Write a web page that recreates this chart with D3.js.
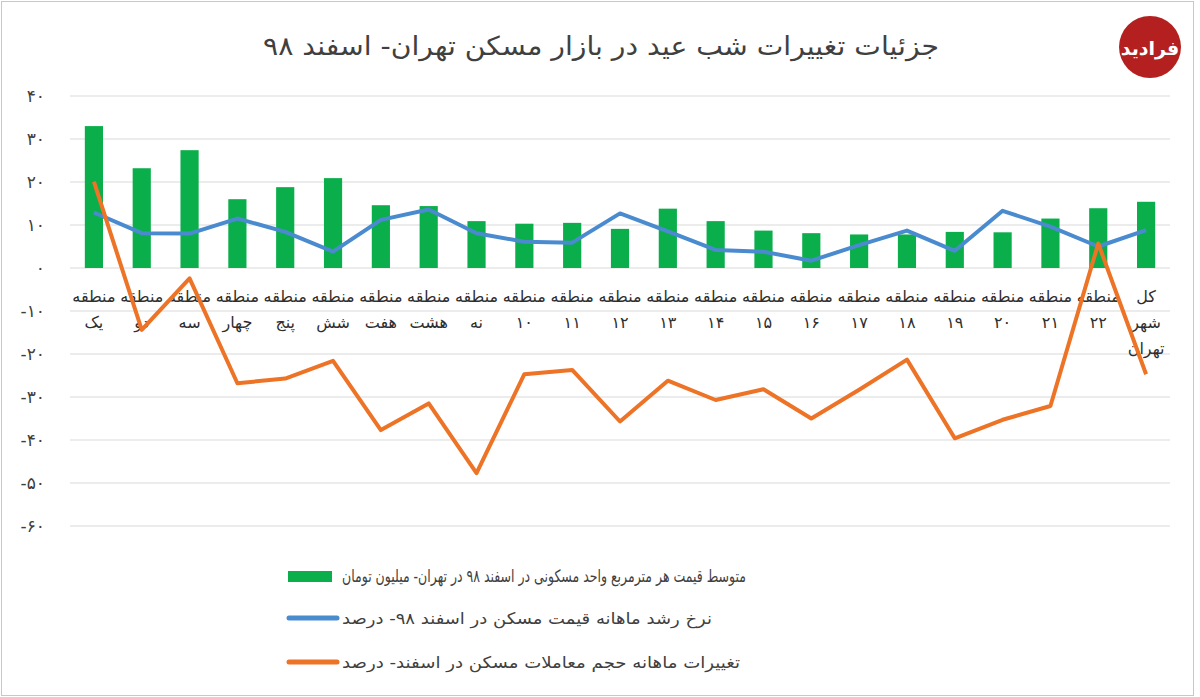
<!DOCTYPE html>
<html>
<head>
<meta charset="utf-8">
<script src="https://cdn.jsdelivr.net/npm/d3@7"></script>
<style>
  body { margin: 0; background: #fff; }
  text { font-family: "DejaVu Sans", sans-serif; }
</style>
</head>
<body>
<div id="chart"></div>
<script>
// chart data
const categories = ["یک", "دو", "سه", "چهار", "پنج", "شش", "هفت", "هشت", "نه",
  "۱۰", "۱۱", "۱۲", "۱۳", "۱۴", "۱۵", "۱۶", "۱۷", "۱۸", "۱۹", "۲۰", "۲۱", "۲۲", "کل"];
const avgPrice = [33.0, 23.2, 27.4, 16.0, 18.8, 20.9, 14.6, 14.4, 10.9, 10.3, 10.5, 9.1,
  13.8, 10.9, 8.7, 8.1, 7.8, 7.8, 8.4, 8.3, 11.5, 13.9, 15.4];
const priceGrowth = [12.9, 8.1, 8.0, 11.5, 8.4, 3.8, 11.2, 13.6, 8.1, 6.1, 5.9, 12.7,
  8.5, 4.2, 3.8, 1.7, 5.3, 8.7, 4.0, 13.3, 9.6, 5.0, 8.8];
const volumeChange = [20.1, -14.4, -2.4, -26.8, -25.7, -21.6, -37.7, -31.5, -47.7, -24.7,
  -23.7, -35.7, -26.2, -30.7, -28.2, -35.0, -28.3, -21.3, -39.6, -35.3, -32.1, 5.7, -24.7];
const yTicks = [40, 30, 20, 10, 0, -10, -20, -30, -40, -50, -60];
const legendLabels = [
  "متوسط قیمت هر مترمربع واحد مسکونی در اسفند ۹۸ در تهران- میلیون تومان",
  "نرخ رشد ماهانه قیمت مسکن در اسفند ۹۸- درصد",
  "تغییرات ماهانه حجم معاملات مسکن در اسفند- درصد"
];

const width = 1200;
const height = 697;
const green = "#0aae4a", blue = "#4a8bd0", orange = "#ed7326";

const faDigits = n => String(Math.abs(n)).replace(/\d/g, d => "۰۱۲۳۴۵۶۷۸۹"[d]);

const svg = d3.select("#chart")
  .append("svg")
  .attr("width", width)
  .attr("height", height);

// frame
svg.append("rect")
  .attr("x", 1.5).attr("y", 1.5)
  .attr("width", width - 8).attr("height", height - 3)
  .attr("fill", "none")
  .attr("stroke", "#c8c8c8");

// title
svg.append("text")
  .attr("x", 601).attr("y", 55)
  .attr("text-anchor", "middle")
  .attr("direction", "rtl")
  .attr("font-size", 26)
  .attr("textLength", 676)
  .attr("lengthAdjust", "spacingAndGlyphs")
  .attr("fill", "#404040")
  .text("جزئیات تغییرات شب عید در بازار مسکن تهران- اسفند ۹۸");

// logo
svg.append("circle")
  .attr("cx", 1150).attr("cy", 47).attr("r", 31)
  .attr("fill", "#b3201f");
svg.append("text")
  .attr("x", 1150).attr("y", 55)
  .attr("text-anchor", "middle")
  .attr("font-size", 19)
  .attr("font-weight", "bold")
  .attr("fill", "#fff")
  .text("فرادید");

// scales
const x = d3.scaleBand()
  .domain(d3.range(categories.length))
  .range([70, 1170])
  .paddingInner(0.62)
  .paddingOuter(0.31);

const y = d3.scaleLinear()
  .domain([-60, 40])
  .range([526, 96]);

const cx = i => x(i) + x.bandwidth() / 2;

// gridlines
svg.append("g")
  .selectAll("line")
  .data(yTicks)
  .enter().append("line")
  .attr("x1", 70).attr("x2", 1170)
  .attr("y1", d => y(d)).attr("y2", d => y(d))
  .attr("stroke", "#d9d9d9")
  .attr("stroke-width", 1.2);

// y labels
svg.append("g")
  .selectAll("text")
  .data(yTicks)
  .enter().append("text")
  .attr("x", 45)
  .attr("y", d => y(d) + 6)
  .attr("text-anchor", "end")
  .attr("font-size", 17)
  .attr("fill", "#404040")
  .text(d => (d < 0 ? "-" : "") + faDigits(d));

// bars
svg.append("g")
  .selectAll("rect")
  .data(avgPrice)
  .enter().append("rect")
  .attr("x", (d, i) => x(i))
  .attr("width", x.bandwidth())
  .attr("y", d => y(d))
  .attr("height", d => y(0) - y(d))
  .attr("fill", green);

// category labels
const labels = svg.append("g")
  .selectAll("text")
  .data(categories)
  .enter().append("text")
  .attr("text-anchor", "middle")
  .attr("font-size", 16)
  .attr("fill", "#2e2e2e");

labels.each(function(d, i) {
  const lines = i === categories.length - 1 ? ["کل", "شهر", "تهران"] : ["منطقه", d];
  d3.select(this).selectAll("tspan")
    .data(lines)
    .enter().append("tspan")
    .attr("x", cx(i))
    .attr("y", (l, k) => 302 + k * 26)
    .text(l => l);
});

// lines
const line = d3.line()
  .x((d, i) => cx(i))
  .y(d => y(d));

svg.append("path")
  .datum(priceGrowth)
  .attr("d", line)
  .attr("fill", "none")
  .attr("stroke", blue)
  .attr("stroke-width", 4)
  .attr("stroke-linejoin", "round");

svg.append("path")
  .datum(volumeChange)
  .attr("d", line)
  .attr("fill", "none")
  .attr("stroke", orange)
  .attr("stroke-width", 4)
  .attr("stroke-linejoin", "round");

// legend
const legend = svg.append("g");
const legendY = [576, 618, 662];
const legendWidths = [404, 370, 398];
const legendSizes = [17, 16, 16];

legend.append("rect")
  .attr("x", 288).attr("y", legendY[0] - 5)
  .attr("width", 44).attr("height", 11)
  .attr("fill", green);
legend.append("line")
  .attr("x1", 289).attr("x2", 337)
  .attr("y1", legendY[1]).attr("y2", legendY[1])
  .attr("stroke", blue).attr("stroke-width", 5)
  .attr("stroke-linecap", "round");
legend.append("line")
  .attr("x1", 289).attr("x2", 337)
  .attr("y1", legendY[2]).attr("y2", legendY[2])
  .attr("stroke", orange).attr("stroke-width", 5)
  .attr("stroke-linecap", "round");

legend.selectAll("text")
  .data(legendLabels)
  .enter().append("text")
  .attr("x", 342)
  .attr("y", (d, i) => legendY[i] + 6)
  .attr("direction", "rtl")
  .attr("text-anchor", "end")
  .attr("font-size", (d, i) => legendSizes[i])
  .attr("textLength", (d, i) => legendWidths[i])
  .attr("lengthAdjust", "spacingAndGlyphs")
  .attr("fill", "#404040")
  .text(d => d);
</script>
</body>
</html>
